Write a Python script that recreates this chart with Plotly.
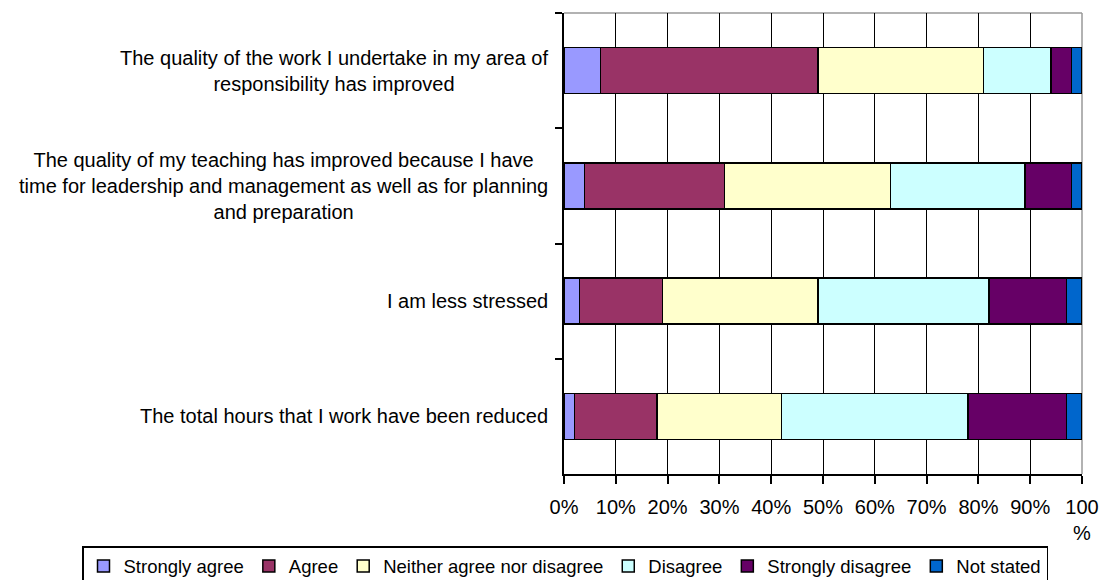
import plotly.graph_objects as go

# survey statements (top to bottom)
statements = [
    "The quality of the work I undertake in my area of<br>responsibility has improved",
    "The quality of my teaching has improved because I have<br>time for leadership and management as well as for planning<br>and preparation",
    "I am less stressed",
    "The total hours that I work have been reduced",
]

responses = ["Strongly agree", "Agree", "Neither agree nor disagree",
             "Disagree", "Strongly disagree", "Not stated"]

# percentages per statement, in the order of `statements`
strongly_agree = [7, 4, 3, 2]
agree = [42, 27, 16, 16]
neither = [32, 32, 30, 24]
disagree = [13, 26, 33, 36]
strongly_disagree = [4, 9, 15, 19]
not_stated = [2, 2, 3, 3]

x_ticks = [0, 10, 20, 30, 40, 50, 60, 70, 80, 90, 100]
x_ticktext = ["0%", "10%", "20%", "30%", "40%", "50%", "60%", "70%", "80%", "90%", "100<br>%"]

colors = ['#9999FF', '#993366', '#FFFFCC', '#CCFFFF', '#660066', '#0066CC']
series = [strongly_agree, agree, neither, disagree, strongly_disagree, not_stated]

FONT = "Liberation Sans, Arial, sans-serif"

fig = go.Figure()

for name, vals, color in zip(responses, series, colors):
    fig.add_trace(go.Bar(
        y=statements, x=vals,
        name=name,
        orientation='h',
        marker=dict(color=color, line=dict(color='black', width=1.5)),
        hovertemplate=name + ": %{x}%<extra></extra>",
    ))

# statement labels, centred lines, right-aligned block next to the axis
for s in statements:
    fig.add_annotation(
        x=0, xref='paper', y=s, yref='y',
        text=s, showarrow=False,
        xanchor='right', yanchor='middle', align='center',
        xshift=-14,
        font=dict(family=FONT, size=20, color='black'),
    )

# grey plot-area border on top and right
fig.add_shape(type='line', xref='paper', yref='paper', x0=0, x1=1, y0=1, y1=1,
              line=dict(color='#999999', width=1.5), layer='between')
fig.add_shape(type='line', xref='paper', yref='paper', x0=1, x1=1, y0=0, y1=1,
              line=dict(color='#999999', width=1.5), layer='between')

fig.update_layout(
    width=1105, height=580,
    barmode='stack',
    bargap=0.6,
    paper_bgcolor='white', plot_bgcolor='white',
    font=dict(family=FONT, size=20, color='black'),
    margin=dict(l=564, r=23, t=13, b=106, autoexpand=False),
    xaxis=dict(
        range=[0, 100],
        tickvals=x_ticks, ticktext=x_ticktext,
        showgrid=True, gridcolor='black', gridwidth=1.3,
        zeroline=False,
        showline=True, linecolor='black', linewidth=1.5,
        ticks='outside', ticklen=8, tickcolor='black', tickwidth=1.5,
        ticklabelstandoff=6,
        automargin=False,
        tickfont=dict(family=FONT, size=20, color='black'),
    ),
    yaxis=dict(
        autorange='reversed',
        showticklabels=False,
        showgrid=False, zeroline=False,
        showline=True, linecolor='black', linewidth=1.5,
        ticks='outside', ticklen=7, tickcolor='black', tickwidth=1.5,
        tickson='boundaries',
        automargin=False,
    ),
    legend=dict(
        orientation='h',
        traceorder='normal',
        x=(82 - 564) / 518, xanchor='left',
        y=(474 - 546) / 461, yanchor='top',
        bordercolor='black', borderwidth=1.5,
        bgcolor='white',
        font=dict(family=FONT, size=18.5, color='black'),
        itemwidth=30,
    ),
    showlegend=True,
)

# drop the default 8px page margin so the figure sits at the window corner
fig.write_html("out.html", config={'displayModeBar': False},
               post_script="document.body.style.margin='0';")
